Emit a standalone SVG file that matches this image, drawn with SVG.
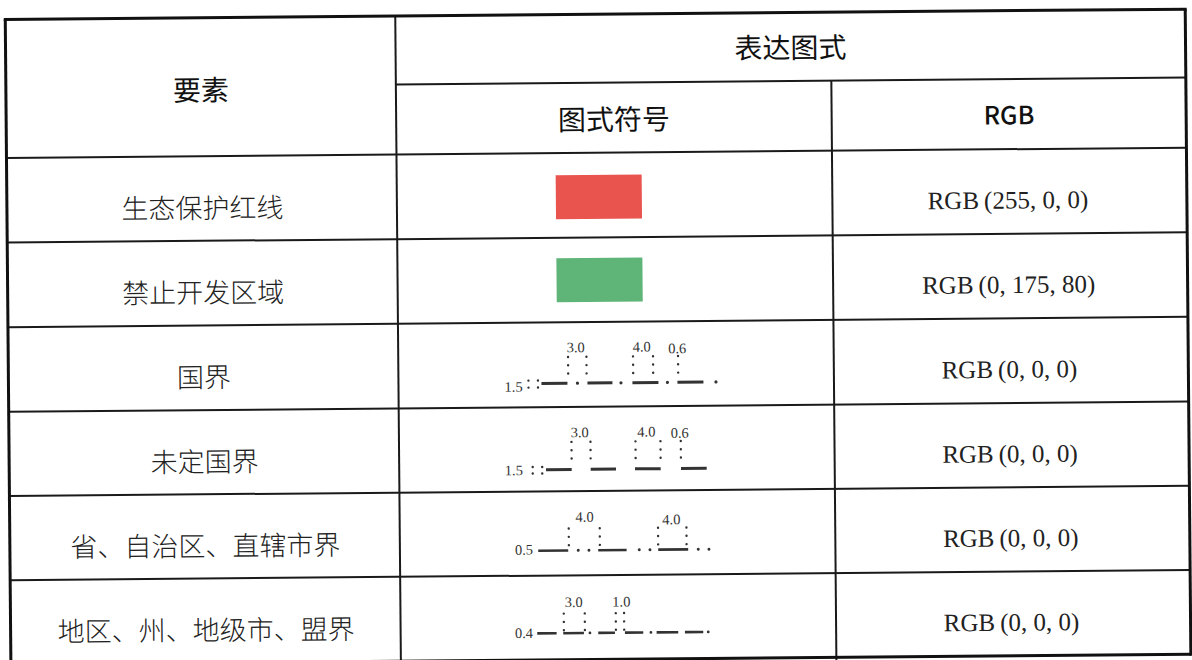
<svg xmlns="http://www.w3.org/2000/svg" width="1192" height="660" viewBox="0 0 1192 660">
<style>
.ln{stroke:#1a1a1a;stroke-width:2;fill:none}
.ob{stroke:#111;stroke-width:3;fill:none}
.cjk{font-family:"Noto Sans CJK SC",sans-serif;font-size:27px;font-weight:300;text-anchor:middle;fill:#222}
.hdr{font-family:"Noto Sans CJK SC",sans-serif;font-size:28px;text-anchor:middle;fill:#111}
.hrgb{font-family:"Noto Sans CJK SC",sans-serif;font-size:25px;font-weight:500;text-anchor:middle;fill:#111}
.rgb{font-family:"Liberation Serif",serif;font-size:25px;text-anchor:middle;fill:#222}
.lbl{font-family:"Liberation Serif",serif;font-size:14.5px;fill:#333}
.lblc{font-family:"Liberation Serif",serif;font-size:14.5px;fill:#333;text-anchor:middle}
.d3{stroke:#333;stroke-width:3}
.d2{stroke:#333;stroke-width:2.6}
.dt{fill:#333}
.vd{stroke:#333;stroke-width:2.4;stroke-linecap:round;stroke-dasharray:0 8.3;fill:none}
</style>
<rect x="0" y="0" width="1192" height="660" fill="#ffffff"/>
<g transform="rotate(-0.5 596 330)">
<g id="grid">
<line class="ln" x1="398" y1="14.3" x2="398" y2="668"/>
<line class="ln" x1="833.5" y1="82.7" x2="833.5" y2="668"/>
<line class="ln" x1="398" y1="82.7" x2="1188" y2="82.7"/>
<line class="ln" x1="8" y1="152.8" x2="1188" y2="152.8"/>
<line class="ln" x1="8" y1="237.4" x2="1188" y2="237.4"/>
<line class="ln" x1="8" y1="322" x2="1188" y2="322"/>
<line class="ln" x1="8" y1="406.7" x2="1188" y2="406.7"/>
<line class="ln" x1="8" y1="490.9" x2="1188" y2="490.9"/>
<line class="ln" x1="8" y1="575.1" x2="1188" y2="575.1"/>
<line class="ob" x1="8" y1="659.5" x2="1188" y2="659.5"/>
<line class="ob" x1="6.5" y1="14.3" x2="1189.5" y2="14.3"/>
<line class="ob" x1="8" y1="14.3" x2="8" y2="668"/>
<line class="ob" x1="1188" y1="14.3" x2="1188" y2="661"/>
</g>
<g id="header">
<text class="hdr" x="203" y="97">要素</text>
<text class="hdr" x="793" y="59.8">表达图式</text>
<text class="hdr" x="615.7" y="130">图式符号</text>
<text class="hrgb" x="1010.8" y="128">RGB</text>
</g>
<g id="row-eco">
<text class="cjk" x="203.5" y="214.6">生态保护红线</text>
<rect x="557" y="175" width="86" height="44" fill="#E9544F"/>
<text class="rgb" x="1009" y="212.1">RGB<tspan dx="5">(255, 0, 0)</tspan></text>
</g>
<g id="row-ban">
<text class="cjk" x="203.5" y="299.2">禁止开发区域</text>
<rect x="557" y="258" width="86" height="44" fill="#5FB577"/>
<text class="rgb" x="1009" y="296.7">RGB<tspan dx="5">(0, 175, 80)</tspan></text>
</g>
<g id="row-national">
<text class="cjk" x="203.5" y="383.9">国界</text>
<text class="lbl" x="504" y="391">1.5</text>
<circle class="dt" cx="528" cy="380" r="1.2"/><circle class="dt" cx="528" cy="387" r="1.2"/>
<circle class="dt" cx="537.5" cy="380" r="1.2"/><circle class="dt" cx="537.5" cy="387" r="1.2"/>
<line class="d3" x1="541" y1="383" x2="567" y2="383"/>
<line class="d3" x1="587" y1="383" x2="612" y2="383"/>
<line class="d3" x1="632" y1="383" x2="658" y2="383"/>
<line class="d3" x1="677" y1="383" x2="703" y2="383"/>
<circle class="dt" cx="577" cy="383" r="1.6"/>
<circle class="dt" cx="620.5" cy="383" r="1.6"/>
<circle class="dt" cx="667" cy="383" r="1.6"/>
<circle class="dt" cx="715.5" cy="383" r="1.6"/>
<line class="vd" x1="567.8" y1="356.7" x2="567.8" y2="374"/>
<line class="vd" x1="586.2" y1="356.7" x2="586.2" y2="374"/>
<line class="vd" x1="632.8" y1="356.7" x2="632.8" y2="374"/>
<line class="vd" x1="652.8" y1="356.7" x2="652.8" y2="374"/>
<line class="vd" x1="677.8" y1="356.7" x2="677.8" y2="374"/>
<text class="lblc" x="575.5" y="352">3.0</text>
<text class="lblc" x="641.5" y="352">4.0</text>
<text class="lblc" x="677" y="354">0.6</text>
<text class="rgb" x="1009" y="381.4">RGB<tspan dx="5">(0, 0, 0)</tspan></text>
</g>
<g id="row-undetermined">
<text class="cjk" x="203.5" y="468.3">未定国界</text>
<text class="lbl" x="503.5" y="474.5">1.5</text>
<circle class="dt" cx="531.5" cy="466.5" r="1.2"/><circle class="dt" cx="531.5" cy="473" r="1.2"/>
<circle class="dt" cx="541" cy="466.5" r="1.2"/><circle class="dt" cx="541" cy="473" r="1.2"/>
<line class="d3" x1="544.8" y1="469.2" x2="570.5" y2="469.2"/>
<line class="d3" x1="589.5" y1="469.2" x2="614.8" y2="469.2"/>
<line class="d3" x1="633.8" y1="469.2" x2="659.5" y2="469.2"/>
<line class="d3" x1="679.8" y1="469.2" x2="705.5" y2="469.2"/>
<line class="vd" x1="570.5" y1="441.7" x2="570.5" y2="459"/>
<line class="vd" x1="589.5" y1="441.7" x2="589.5" y2="459"/>
<line class="vd" x1="634.5" y1="441.7" x2="634.5" y2="459"/>
<line class="vd" x1="659.5" y1="441.7" x2="659.5" y2="459"/>
<line class="vd" x1="679.8" y1="441.7" x2="679.8" y2="459"/>
<text class="lblc" x="578.8" y="437">3.0</text>
<text class="lblc" x="645.5" y="437">4.0</text>
<text class="lblc" x="678.8" y="438.5">0.6</text>
<text class="rgb" x="1009" y="465.8">RGB<tspan dx="5">(0, 0, 0)</tspan></text>
</g>
<g id="row-province">
<text class="cjk" x="203.5" y="552.5">省、自治区、直辖市界</text>
<text class="lbl" x="513" y="554">0.5</text>
<line class="d2" x1="536.3" y1="550.2" x2="566.3" y2="550.2"/>
<line class="d2" x1="596.3" y1="550.2" x2="624.7" y2="550.2"/>
<line class="d2" x1="656.3" y1="550.2" x2="686.3" y2="550.2"/>
<circle class="dt" cx="576.3" cy="550.2" r="1.5"/>
<circle class="dt" cx="587" cy="550.2" r="1.5"/>
<circle class="dt" cx="637.3" cy="550.2" r="1.5"/>
<circle class="dt" cx="648" cy="550.2" r="1.5"/>
<circle class="dt" cx="696.3" cy="550.2" r="1.5"/>
<circle class="dt" cx="707" cy="550.2" r="1.5"/>
<line class="vd" x1="567" y1="528.3" x2="567" y2="546"/>
<line class="vd" x1="598" y1="528.3" x2="598" y2="546"/>
<line class="vd" x1="656.3" y1="528.3" x2="656.3" y2="546"/>
<line class="vd" x1="684.7" y1="528.3" x2="684.7" y2="546"/>
<text class="lblc" x="583" y="521.7">4.0</text>
<text class="lblc" x="669.7" y="525">4.0</text>
<text class="rgb" x="1009" y="550">RGB<tspan dx="5">(0, 0, 0)</tspan></text>
</g>
<g id="row-prefecture">
<text class="cjk" x="203.5" y="636.8">地区、州、地级市、盟界</text>
<text class="lbl" x="512.3" y="637.3">0.4</text>
<line class="d2" x1="534.6" y1="632.9" x2="554" y2="632.9"/>
<line class="d2" x1="560.6" y1="632.9" x2="581.3" y2="632.9"/>
<line class="d2" x1="595.6" y1="632.9" x2="612.3" y2="632.9"/>
<line class="d2" x1="622.3" y1="632.9" x2="640.6" y2="632.9"/>
<line class="d2" x1="654" y1="632.9" x2="675.6" y2="632.9"/>
<line class="d2" x1="682.3" y1="632.9" x2="700.6" y2="632.9"/>
<circle class="dt" cx="587.3" cy="632.9" r="1.4"/>
<circle class="dt" cx="648.3" cy="632.9" r="1.4"/>
<circle class="dt" cx="705.6" cy="632.9" r="1.4"/>
<line class="vd" x1="561.3" y1="613.3" x2="561.3" y2="630"/>
<line class="vd" x1="582.3" y1="613.3" x2="582.3" y2="630"/>
<line class="vd" x1="613.3" y1="613.3" x2="613.3" y2="630"/>
<line class="vd" x1="621.6" y1="613.3" x2="621.6" y2="630"/>
<text class="lblc" x="571.3" y="606.7">3.0</text>
<text class="lblc" x="619" y="606.7">1.0</text>
<text class="rgb" x="1009" y="634.3">RGB<tspan dx="5">(0, 0, 0)</tspan></text>
</g>
</g>
</svg>
